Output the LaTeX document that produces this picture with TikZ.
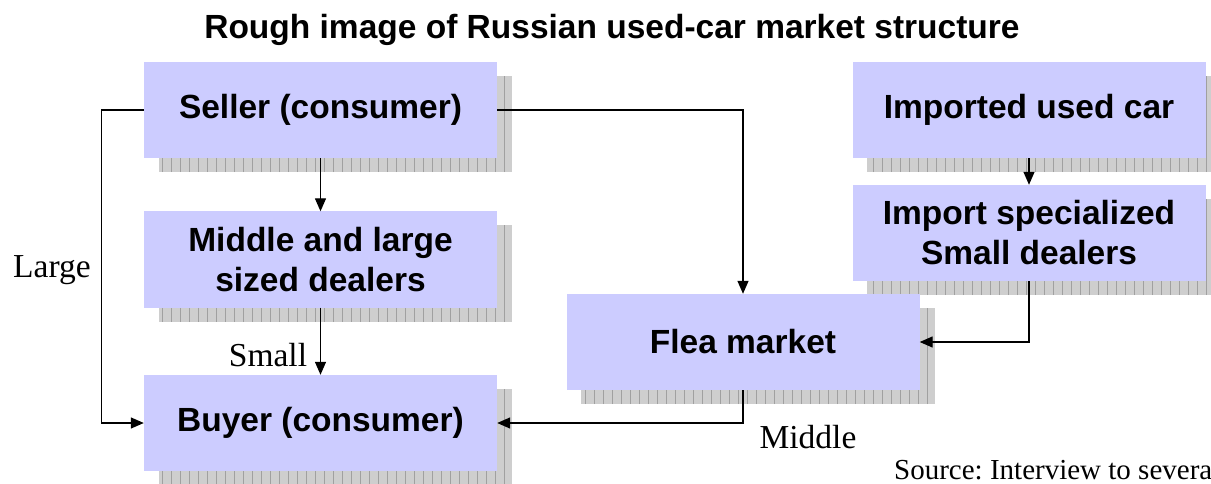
\documentclass[tikz,border=0pt]{standalone}
\usepackage{fontspec}
\setmainfont{Liberation Serif}
\newfontfamily\boxfont{Liberation Sans}
\usetikzlibrary{arrows.meta,backgrounds}
\definecolor{boxfill}{RGB}{204,204,255}
\definecolor{shadefill}{RGB}{206,206,206}
\definecolor{shadegrid}{RGB}{160,160,160}
\frenchspacing
\begin{document}
\begin{tikzpicture}[x=1pt,y=-1pt,
  box/.style={fill=boxfill, draw=none, minimum width=353pt, minimum height=96pt,
    inner sep=0pt, align=center, font=\boxfont\bfseries\fontsize{33.5}{40}\selectfont},
  shadowgrid/.style={fill=shadefill,
    path picture={\draw[shadegrid, line width=0.5pt, step=9]
      (path picture bounding box.south west) grid (path picture bounding box.north east);}},
  conn/.style={line width=1.3pt, -{Triangle[length=13pt,width=11pt]}},
  lbl/.style={font=\fontsize{33.5}{40}\selectfont, inner sep=0pt}]
\useasboundingbox (0,0) rectangle (1211,484);
\clip (0,0) rectangle (1211,484);

% title
\node[font=\boxfont\bfseries\fontsize{33.5}{40}\selectfont, inner sep=0pt] (title) at (612,30)
  {Rough image of Russian used-car market structure};

% boxes
\node[box] (seller)     at (320.5,110) {Seller (consumer)};
\node[box] (middle)     at (320.5,259.5) {Middle and large\\sized dealers};
\node[box] (buyer)      at (320.5,423) {Buyer (consumer)};
\node[box] (flea)       at (743,342)   {Flea market};
\node[box] (imported)   at (1029,110)  {Imported used car};
\node[box] (importspec) at (1029,233)  {Import specialized\\Small dealers};

% grid shadows behind the boxes
\begin{scope}[on background layer]
  \foreach \b in {seller,middle,buyer,flea,imported,importspec}{
    \path[shadowgrid] ([shift={(15,14)}]\b.north west) rectangle ([shift={(15,14)}]\b.south east);
  }
\end{scope}

% flows
\draw[conn] (seller.south) -- (middle.north);
\draw[conn] (middle.south) -- (buyer.north);
\draw[conn] (seller.east) -| (flea.north);
\coordinate (leftrun) at ([xshift=-42pt]seller.west);
\draw[conn] (seller.west) -- (leftrun) |- (buyer.west);
\draw[conn] (flea.south) |- (buyer.east);
\draw[conn] (imported.south) -- (importspec.north);
\draw[conn] (importspec.south) |- (flea.east);

% labels
\node[lbl] (large)  at (52,270)  {Large};
\node[lbl] (small)  at (268,355) {Small};
\node[lbl] (mid)    at (808,437) {Middle};
\node[lbl, font=\fontsize{29}{34}\selectfont, anchor=west] (source) at (894,470) {Source: Interview to several};
\end{tikzpicture}
\end{document}
